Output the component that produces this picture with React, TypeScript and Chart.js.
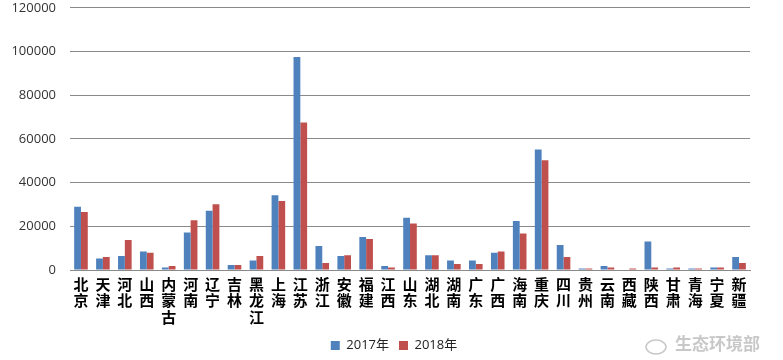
import React, { useEffect, useRef } from "react";
import { Chart, registerables } from "chart.js";

Chart.register(...registerables);

const provinces = [
  "北京", "天津", "河北", "山西", "内蒙古", "河南", "辽宁", "吉林", "黑龙江", "上海",
  "江苏", "浙江", "安徽", "福建", "江西", "山东", "湖北", "湖南", "广东", "广西",
  "海南", "重庆", "四川", "贵州", "云南", "西藏", "陕西", "甘肃", "青海", "宁夏", "新疆",
];

const values2017 = [
  29000, 5300, 6400, 8500, 1200, 17200, 27100, 2300, 4300, 34200,
  97500, 11000, 6400, 15100, 1800, 23900, 6800, 4300, 4300, 7900,
  22400, 55200, 11400, 700, 1800, 0, 13100, 700, 700, 1200, 5900,
];

const values2018 = [
  26500, 5900, 13700, 7900, 1800, 22800, 30100, 2300, 6400, 31600,
  67500, 3200, 6800, 14200, 1200, 21300, 6800, 2700, 2700, 8500,
  16700, 50200, 5900, 700, 1200, 700, 1200, 1200, 700, 1200, 3200,
];

const seriesNames = ["2017年", "2018年"];
const yTicks = [0, 20000, 40000, 60000, 80000, 100000, 120000];

const watermark = {
  id: "watermark",
  afterDraw(chart: any) {
    const ctx = chart.ctx;
    ctx.save();
    ctx.fillStyle = "rgba(190,190,190,0.85)";
    ctx.font = "bold 17px 'Noto Sans CJK SC'";
    ctx.textBaseline = "middle";
    ctx.textAlign = "left";
    ctx.fillText("生态环境部", 675, 344);
    ctx.strokeStyle = "rgba(190,190,190,0.85)";
    ctx.lineWidth = 1.5;
    ctx.beginPath();
    ctx.ellipse(656, 347, 10, 7, 0, 0, Math.PI * 2);
    ctx.stroke();
    ctx.restore();
  },
};

const shiftLegend = {
  id: "shiftLegend",
  afterLayout(chart: any) {
    if (chart.legend) {
      chart.legend.left += 19;
      chart.legend.right += 19;
      chart.legend.top += 2;
      chart.legend.bottom += 2;
    }
  },
};

export default function App() {
  const ref = useRef<HTMLCanvasElement>(null);
  useEffect(() => {
    document.body.style.margin = "0";
    const chart = new Chart(ref.current!, {
      type: "bar",
      data: {
        labels: provinces.map((p) => p.split("")),
        datasets: [
          { label: seriesNames[0], data: values2017, backgroundColor: "#4F81BD", categoryPercentage: 0.62, barPercentage: 1 },
          { label: seriesNames[1], data: values2018, backgroundColor: "#C0504D", categoryPercentage: 0.62, barPercentage: 1 },
        ],
      },
      options: {
        responsive: false,
        animation: false,
        layout: { padding: { left: 0, right: 33, top: 0, bottom: 0 } },
        plugins: {
          tooltip: { enabled: false },
          legend: {
            position: "bottom",
            labels: {
              boxWidth: 9,
              boxHeight: 9,
              padding: 10,
              color: "#222",
              font: { size: 13, family: "'Open Sans', 'Noto Sans CJK SC'" },
            },
          },
        },
        scales: {
          x: {
            grid: { display: false, drawTicks: false },
            border: { display: true, color: "#8a8a8a" },
            ticks: {
              autoSkip: false,
              maxRotation: 0,
              minRotation: 0,
              padding: 6,
              color: "#000",
              font: { size: 15, weight: "bold", family: "'Noto Sans CJK SC'", lineHeight: 1.1 },
            },
            afterFit: (s: any) => {
              s.height = 57;
            },
          },
          y: {
            min: 0,
            max: 120000,
            afterBuildTicks: (s: any) => {
              s.ticks = yTicks.map((v) => ({ value: v }));
            },
            grid: { color: "#8a8a8a", drawTicks: true, tickLength: 14, tickColor: "rgba(0,0,0,0)" },
            border: { display: false },
            ticks: {
              padding: 0,
              color: "#333",
              font: { size: 13, family: "'Open Sans'" },
              callback: (v: any) => String(v),
            },
            afterFit: (s: any) => {
              s.width = 70;
            },
          },
        },
      },
      plugins: [watermark, shiftLegend],
    });
    return () => chart.destroy();
  }, []);
  return (
    <div style={{ position: "absolute", left: 0, top: 0, width: 783, height: 360 }}>
      <canvas ref={ref} width={783} height={360} />
    </div>
  );
}
